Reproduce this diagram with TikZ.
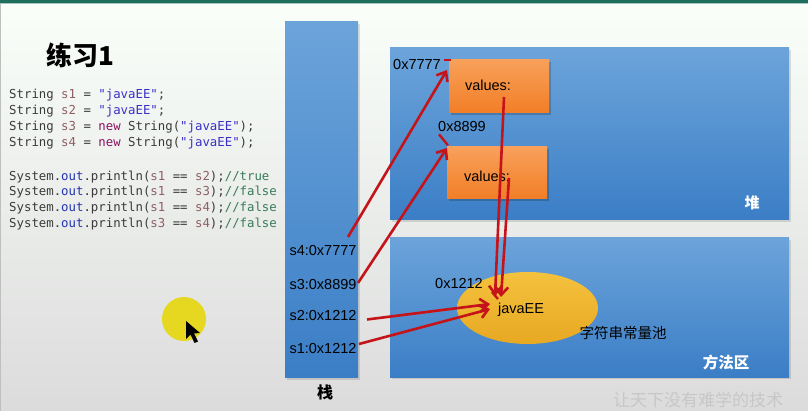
\documentclass[tikz,border=0pt]{standalone}
\usepackage{fontspec}
\setmainfont{Liberation Sans}
\newfontfamily\cjk{Noto Sans CJK SC}
\newfontfamily\codefont{DejaVu Sans Mono}
\usetikzlibrary{arrows.meta,shapes.geometric}
\definecolor{barteal}{HTML}{1F6E5E}
\definecolor{bluetop}{HTML}{6CA4DA}
\definecolor{bluebot}{HTML}{3B7EC6}
\definecolor{orgtop}{HTML}{F8A05A}
\definecolor{orgbot}{HTML}{F27E26}
\definecolor{goldtop}{HTML}{F4C23E}
\definecolor{goldbot}{HTML}{E8A822}
\definecolor{arrowred}{HTML}{C4141A}
\definecolor{codegray}{HTML}{3A3A3A}
\definecolor{varc}{HTML}{8F5F64}
\definecolor{strc}{HTML}{3A30C8}
\definecolor{kwc}{HTML}{8A1060}
\definecolor{outc}{HTML}{2232B0}
\definecolor{cmtc}{HTML}{3A7A5A}
\definecolor{marker}{HTML}{E6D820}
\newcommand{\vr}[1]{\textcolor{varc}{#1}}
\newcommand{\st}[1]{\textcolor{strc}{#1}}
\newcommand{\kw}[1]{\textcolor{kwc}{#1}}
\newcommand{\ot}[1]{\textcolor{outc}{#1}}
\newcommand{\cm}[1]{\textcolor{cmtc}{#1}}
\begin{document}
\begin{tikzpicture}[x=1pt,y=-1pt,
  area/.style={draw=none,top color=bluetop,bottom color=bluebot},
  shadowbox/.style={fill=black,opacity=0.12},
  objbox/.style={draw=none,top color=orgtop,bottom color=orgbot,minimum width=100pt,minimum height=53pt,inner sep=0pt},
  lbl/.style={font=\fontsize{14.5}{16}\selectfont,text=black,inner sep=0pt},
  codeline/.style={anchor=west,inner sep=0pt,font=\codefont\fontsize{12.35}{14}\selectfont,text=codegray},
  ref/.style={draw=arrowred,line width=2.6pt,-{Straight Barb[length=8pt,width=13pt,line width=2.6pt]}},
  tick/.style={draw=arrowred,line width=2.4pt},
]
% page background
\useasboundingbox (0,0) rectangle (808,411);
\shade[top color=white!98!green, bottom color=black!14] (0,0) rectangle (808,411);
\fill[barteal] (0,0) rectangle (808,3);
\fill[barteal!40] (0,3) rectangle (808,4.5);
\draw[black!25,line width=0.8pt] (0.4,4) -- (0.4,411);

% title and code
\node[font=\cjk\bfseries\fontsize{26}{28}\selectfont,inner sep=0pt] (title) at (80,55) {练习1};
\node[codeline] (c1) at (9,95) {String \vr{s1} = \st{"javaEE"};};
\node[codeline] (c2) at (9,111) {String \vr{s2} = \st{"javaEE"};};
\node[codeline] (c3) at (9,127) {String \vr{s3} = \kw{new} String(\st{"javaEE"});};
\node[codeline] (c4) at (9,143) {String \vr{s4} = \kw{new} String(\st{"javaEE"});};
\node[codeline] (c5) at (9,177) {System.\ot{out}.println(\vr{s1} == \vr{s2});\cm{//true}};
\node[codeline] (c6) at (9,192) {System.\ot{out}.println(\vr{s1} == \vr{s3});\cm{//false}};
\node[codeline] (c7) at (9,208) {System.\ot{out}.println(\vr{s1} == \vr{s4});\cm{//false}};
\node[codeline] (c8) at (9,224) {System.\ot{out}.println(\vr{s3} == \vr{s4});\cm{//false}};

% pointer highlight
\fill[marker] (184,319) circle (22);
\fill[black] (186,321) -- (186,339) -- (190.5,334.5) -- (194.5,343) -- (198,341.5) -- (194,333.5) -- (200,333) -- cycle;

% memory areas
\fill[shadowbox] (287,24) rectangle (360,380);
\shade[area] (285,22) rectangle (358,377);
\fill[shadowbox] (392,50) rectangle (791,222);
\shade[area] (390,48) rectangle (789,220);
\fill[shadowbox] (392,240) rectangle (791,379);
\shade[area] (390,238) rectangle (789,377);
\node[font=\cjk\bfseries\fontsize{16}{18}\selectfont,inner sep=0pt] (stacklbl) at (325,392) {栈};
\node[font=\cjk\bfseries\fontsize{15}{17}\selectfont,text=white,inner sep=0pt] (heaplbl) at (752,203) {堆};
\node[font=\cjk\bfseries\fontsize{15.5}{17}\selectfont,text=white,inner sep=0pt] (methlbl) at (726,363) {方法区};

% heap objects
\fill[black,opacity=0.18] (451,62) rectangle (551,115);
\node[objbox] (b1) at (499,86.5) {};
\node[lbl] (v1) at (488,85) {values:};
\fill[black,opacity=0.18] (449,149) rectangle (549,201);
\node[objbox,minimum height=52pt] (b2) at (497,173) {};
\node[lbl] (v2) at (487,176) {values:};
\node[lbl] (a7777) at (417,65) {0x7777};
\node[lbl] (a8899) at (462,127) {0x8899};

% string constant pool
\node[ellipse,draw=none,top color=goldtop,bottom color=goldbot,minimum width=141pt,minimum height=72pt,inner sep=0pt] (pool) at (527.5,308) {};
\node[lbl] (a1212) at (459,284) {0x1212};
\node[lbl] (jee) at (521,310) {javaEE};
\node[font=\cjk\fontsize{14.5}{16}\selectfont,inner sep=0pt] (pooltxt) at (623,333) {字符串常量池};

% stack variables
\node[lbl] (s4) at (323,251) {s4:0x7777};
\node[lbl] (s3) at (323,285) {s3:0x8899};
\node[lbl] (s2) at (323,316) {s2:0x1212};
\node[lbl] (s1) at (323,349) {s1:0x1212};

% references
\coordinate (r4) at (348,237);
\coordinate (r3) at (358,283);
\coordinate (r2) at (367,319.5);
\coordinate (r1) at (359,344);
\coordinate (t1) at (447,70);
\coordinate (t2) at (447,148);
\coordinate (p1) at (504,97);
\coordinate (p2) at (509,178);
\coordinate (j1) at (495,296);
\coordinate (j2) at (501,297);
\coordinate (j3) at (490,304);
\coordinate (j4) at (490,309);
\draw[ref] (r4) -- (t1);
\draw[ref] (r3) -- (t2);
\draw[ref] (p1) -- (j1);
\draw[ref] (p2) -- (j2);
\draw[ref] (r2) -- (j3);
\draw[ref] (r1) -- (j4);
\draw[tick] ([xshift=3pt,yshift=5pt]a7777.east) -- ++(7,0);
\draw[tick] ([xshift=-23pt,yshift=-2pt]a8899.south) -- ++(9,11);
\draw[tick] ([xshift=-29pt,yshift=11pt]jee.north) -- ++(6,7);

% signature
\node[font=\cjk\fontsize{17}{19}\selectfont,text=black!22,inner sep=0pt] (sig) at (698,400) {让天下没有难学的技术};
\end{tikzpicture}
\end{document}
